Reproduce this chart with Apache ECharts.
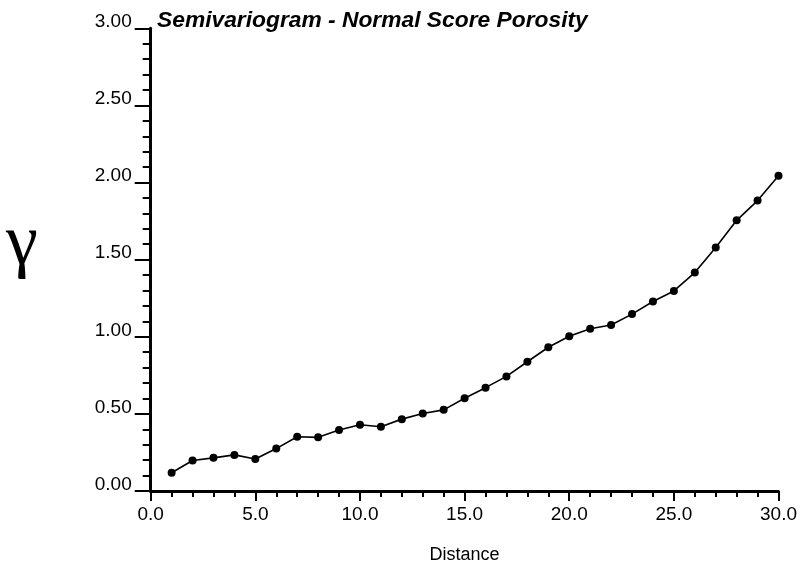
<!DOCTYPE html>
<html>
<head>
<meta charset="utf-8">
<style>html,body{margin:0;padding:0;background:#fff;}#c{width:800px;height:569px;}</style>
<script src="https://cdn.jsdelivr.net/npm/echarts@6/dist/echarts.min.js"></script>
</head>
<body>
<div id="c"></div>
<script>
const titleText = 'Semivariogram - Normal Score Porosity';
const xName = 'Distance';
const yName = 'γ';
const distances = [1,2,3,4,5,6,7,8,9,10,11,12,13,14,15,16,17,18,19,20,21,22,23,24,25,26,27,28,29,30];
const gammaValues = [0.118,0.198,0.215,0.234,0.208,0.275,0.352,0.348,0.395,0.430,0.417,0.466,0.503,0.526,0.601,0.670,0.743,0.838,0.932,1.003,1.052,1.076,1.147,1.229,1.297,1.416,1.579,1.755,1.883,2.044];

const chart = echarts.init(document.getElementById('c'), null, {renderer: 'canvas'});
const font = 'Liberation Sans, Arial, Helvetica, sans-serif';
chart.setOption({
  backgroundColor: '#fff',
  animation: false,
  title: {
    text: titleText, left: 152, top: 4,
    textStyle: {fontFamily: font, fontSize: 22.8, fontWeight: 'bold', fontStyle: 'italic', color: '#000'}
  },
  grid: {left: 150.7, right: 20, top: 28.3, bottom: 75, containLabel: false},
  xAxis: {
    type: 'value', min: 0, max: 30, interval: 5,
    name: xName, nameLocation: 'middle', nameGap: 55,
    nameTextStyle: {fontFamily: font, fontSize: 18, color: '#000'},
    axisLine: {show: true, onZero: false, lineStyle: {color: '#000', width: 3}},
    axisTick: {show: true, inside: false, length: 10, lineStyle: {color: '#000', width: 2}},
    minorTick: {show: true, splitNumber: 5, length: 6, lineStyle: {color: '#000', width: 2}},
    axisLabel: {fontFamily: font, fontSize: 19, color: '#000', margin: 14, formatter: v => v.toFixed(1)},
    splitLine: {show: false}
  },
  yAxis: {
    type: 'value', min: 0, max: 3, interval: 0.5,
    axisLine: {show: true, onZero: false, lineStyle: {color: '#000', width: 3}},
    axisTick: {show: true, inside: false, length: 16, lineStyle: {color: '#000', width: 2}},
    minorTick: {show: true, splitNumber: 5, length: 8, lineStyle: {color: '#000', width: 2}},
    axisLabel: {fontFamily: font, fontSize: 19, color: '#000', margin: 19, verticalAlign: 'bottom', lineHeight: 19, padding: [0,0,-3,0], formatter: v => v.toFixed(2)},
    splitLine: {show: false}
  },
  graphic: [{
    type: 'text', left: 6, top: 209,
    style: {text: yName, fontFamily: 'Liberation Serif, DejaVu Serif, serif', fontSize: 72, fill: '#000'}
  }],
  series: [{
    type: 'line',
    data: distances.map((d, i) => [d, gammaValues[i]]),
    symbol: 'circle', symbolSize: 8,
    lineStyle: {color: '#000', width: 1.6},
    itemStyle: {color: '#000'}
  }]
});
</script>
</body>
</html>
